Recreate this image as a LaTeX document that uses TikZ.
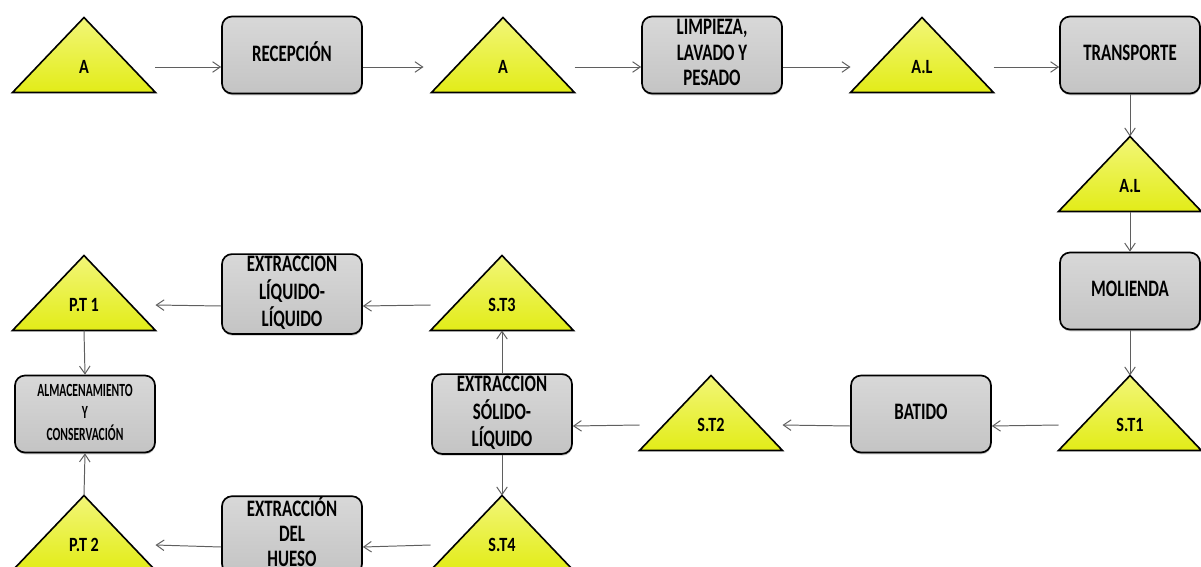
\documentclass[tikz,border=0pt]{standalone}
\usepackage{fontspec}
\setmainfont{Carlito}
\usepackage{graphicx}
\usetikzlibrary{arrows.meta,backgrounds,shadows}

\definecolor{triTop}{RGB}{242,246,120}
\definecolor{triBot}{RGB}{226,236,24}
\definecolor{boxTop}{RGB}{216,216,216}
\definecolor{boxBot}{RGB}{196,196,196}
\definecolor{lineGray}{RGB}{95,95,95}

\newcommand{\tx}[1]{\scalebox{1}[1.25]{#1}}
\newcommand{\tall}[2][1.4]{\scalebox{1}[#1]{\begin{tabular}{@{}c@{}}#2\end{tabular}}}

\begin{document}
\begin{tikzpicture}[x=0.05cm, y=-0.05cm, >={Straight Barb[length=11pt,width=15pt]},
  proc/.style={draw=black, line width=2.4pt, rounded corners=0.5cm, top color=boxTop, bottom color=boxBot,
    minimum width=7cm, minimum height=3.85cm, inner sep=0pt,
    font=\fontsize{24}{25.5}\selectfont\bfseries,
    drop shadow={shadow xshift=0.6pt, shadow yshift=-2.5pt, opacity=0.45}},
  tri/.style={minimum width=7.15cm, minimum height=3.75cm, inner sep=0pt, outer sep=0pt,
    text height=2.3cm, text depth=0.45cm, font=\fontsize{23}{26}\selectfont\bfseries},
  triShape/.style={draw=black, line width=2.3pt, top color=triTop, bottom color=triBot},
  flecha/.style={->, draw=lineGray, line width=1.4pt},
  lo/.style={yshift=-0.6cm}]

\useasboundingbox (0,0) rectangle (1201,566);

% fila superior
\node[tri] (a1) at (84,55) {\tx{A}};
\node[proc] (rec) at (292,55) {\tall{RECEPCIÓN}};
\node[tri] (a2) at (503,55) {\tx{A}};
\node[proc] (lim) at (712,55) {\tall{LIMPIEZA,\\LAVADO Y\\PESADO}};
\node[tri] (al1) at (922,55) {\tx{A.L}};
\node[proc] (tra) at (1130,55) {\tall{TRANSPORTE}};

% columna derecha
\node[tri] (al2) at (1130,174) {\tx{A.L}};
\node[proc] (mol) at (1130,291) {\tall{MOLIENDA}};

% fila central
\node[tri] (st1) at (1130,413) {\tx{S.T1}};
\node[proc] (bat) at (921,414) {\tall{BATIDO}};
\node[tri] (st2) at (711,413) {\tx{S.T2}};
\node[proc] (esl) at (502,414) {\tall{EXTRACCION\\SÓLIDO-\\LÍQUIDO}};
\node[proc, font=\fontsize{16.5}{19.5}\selectfont\bfseries] (alm) at (85,414) {\tall[1.6]{ALMACENAMIENTO\\Y\\CONSERVACIÓN}};

\node[tri] (st3) at (502,293) {\tx{S.T3}};
\node[proc] (ell) at (292,294) {\tall{EXTRACCION\\LÍQUIDO-\\LÍQUIDO}};
\node[tri] (pt1) at (84,293) {\tx{P.T 1}};

\node[tri] (st4) at (502,533) {\tx{S.T4}};
\node[proc] (edh) at (292,535) {\tall{EXTRACCIÓN\\DEL\\HUESO}};
\node[tri] (pt2) at (84,533) {\tx{P.T 2}};

\begin{scope}[on background layer]
\foreach \t in {a1,a2,al1,al2,st1,st2,st3,st4,pt1,pt2}
  \shadedraw[triShape] (\t.south west) -- (\t.south east) -- (\t.north) -- cycle;
\end{scope}

\draw[flecha] ([lo]a1.east) -- ([lo]rec.west);
\draw[flecha] ([lo]rec.east) -- ([lo,xshift=-0.4cm]a2.west);
\draw[flecha] ([lo]a2.east) -- ([lo]lim.west);
\draw[flecha] ([lo]lim.east) -- ([lo]al1.west);
\draw[flecha] ([lo]al1.east) -- ([lo]tra.west);
\draw[flecha] (tra.south) -- (al2.north);
\draw[flecha] (al2.south) -- (mol.north);
\draw[flecha] (mol.south) -- (st1.north);

\draw[flecha] ([lo]st1.west) -- ([lo]bat.east);
\draw[flecha] ([lo]bat.west) -- ([lo]st2.east);
\draw[flecha] ([lo]st2.west) -- ([lo]esl.east);
\draw[flecha] (esl.north) -- (st3.south);
\draw[flecha] (esl.south) -- (st4.north);

\draw[flecha] ([lo]st3.west) -- ([lo]ell.east);
\draw[flecha] ([lo]ell.west) -- ([lo]pt1.east);
\draw[flecha] (pt1.south) -- (alm.north);

\draw[flecha] ([lo]st4.west) -- ([lo]edh.east);
\draw[flecha] ([lo]edh.west) -- ([lo]pt2.east);
\draw[flecha] (pt2.north) -- (alm.south);

\end{tikzpicture}
\end{document}
